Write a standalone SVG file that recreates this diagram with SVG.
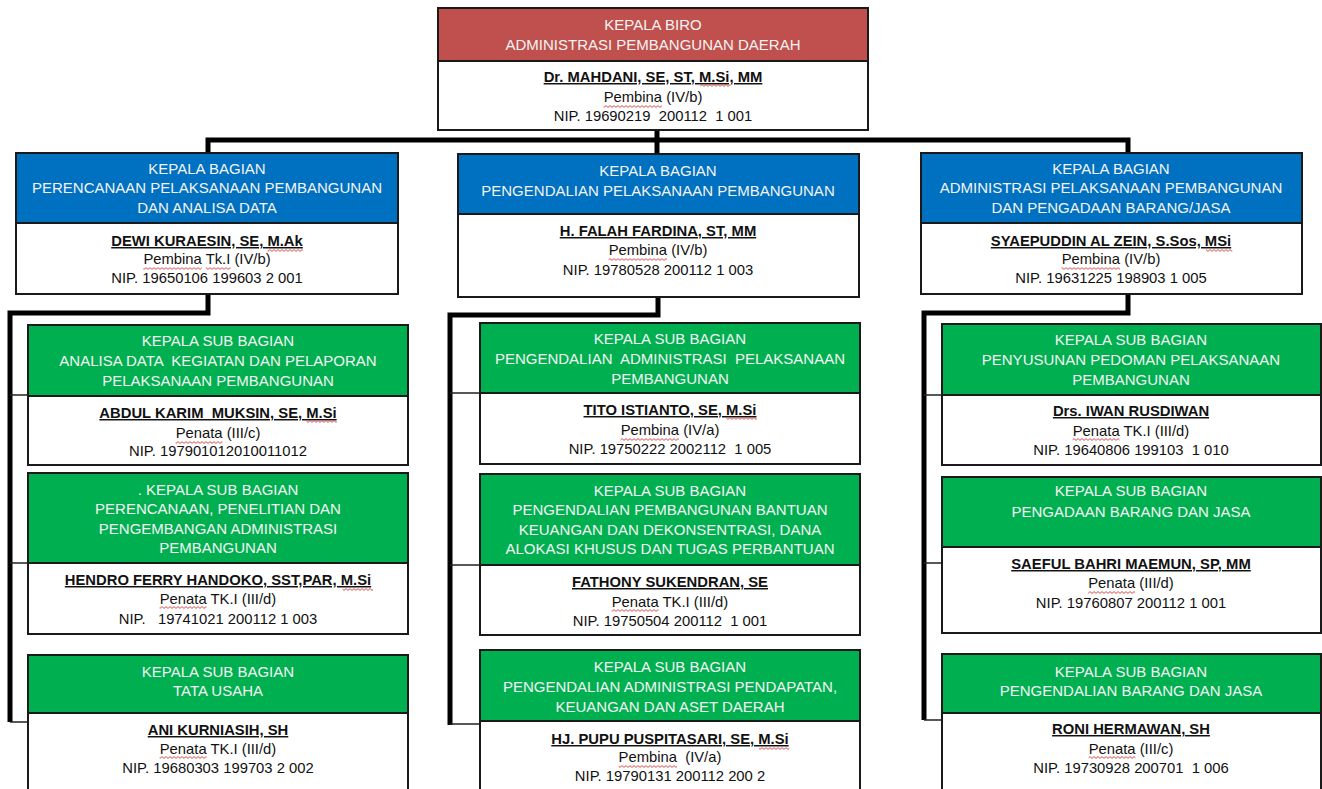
<svg xmlns="http://www.w3.org/2000/svg" width="1322" height="789" viewBox="0 0 1322 789">
<defs>
<pattern id="wave" patternUnits="userSpaceOnUse" x="0" y="0" width="4" height="3">
<path d="M0 2.4L2 0.6L4 2.4" fill="none" stroke="#d83a3a" stroke-width="0.9"/>
</pattern>
</defs>
<style>
text{font-family:"Liberation Sans",Arial,sans-serif;text-anchor:middle;white-space:pre}
.h{font-size:15px;fill:#f4f4f4}
.n{font-size:14.8px;font-weight:bold;fill:#111;text-decoration:underline}
.t{font-size:14.8px;fill:#111}
.wv{fill:url(#wave)}
.box{fill:#fff;stroke:#1a1a1a;stroke-width:2}
.red{fill:#c0504d}
.blue{fill:#0070c0}
.green{fill:#00b050}
.div{stroke:#1a1a1a;stroke-width:2}
.thick{fill:none;stroke:#000;stroke-width:5;stroke-linejoin:miter}
.thin{fill:none;stroke:#222;stroke-width:1.3}
</style>
<rect width="1322" height="789" fill="#fff"/>
<g id="connectors">
<path class="thick" d="M657 130V140M208 153V140H1128V153M657 140V154"/>
<path class="thick" d="M208 294V313H10V722"/>
<path class="thick" d="M658 297V315H450V725"/>
<path class="thick" d="M1128 294V313H924V720"/>
<path class="thin" d="M10 395H28M10 563H28M10 722H28"/>
<path class="thin" d="M450 393H480M450 565H480M450 724H480"/>
<path class="thin" d="M924 395H942M924 563H942M924 720H942"/>
</g>
<g id="kepala-biro">
<rect class="red" x="438" y="8" width="430" height="53"/>
<rect class="box" x="438" y="8" width="430" height="122" style="fill:none"/>
<line class="div" x1="438" y1="61" x2="868" y2="61"/>
<text class="h" x="653" y="30">KEPALA BIRO</text>
<text class="h" x="653" y="50">ADMINISTRASI PEMBANGUNAN DAERAH</text>
<text class="n" x="653" y="82">Dr. MAHDANI, SE, ST, M.Si, MM</text>
<text class="t" x="653" y="102">Pembina (IV/b)</text>
<text class="t" x="653" y="121">NIP. 19690219  200112  1 001</text>
<rect class="wv" x="700.3" y="84" width="30.4" height="3"/>
<rect class="wv" x="603.6" y="105" width="58.4" height="3"/>
</g>
<g id="bagian-perencanaan">
<rect class="box" x="16" y="153" width="382" height="141"/>
<rect class="blue" x="17" y="154" width="380" height="69"/>
<line class="div" x1="16" y1="223" x2="398" y2="223"/>
<text class="h" x="207" y="174">KEPALA BAGIAN</text>
<text class="h" x="207" y="193">PERENCANAAN PELAKSANAAN PEMBANGUNAN</text>
<text class="h" x="207" y="213">DAN ANALISA DATA</text>
<text class="n" x="207" y="246">DEWI KURAESIN, SE, M.Ak</text>
<text class="t" x="207" y="264">Pembina Tk.I (IV/b)</text>
<text class="t" x="207" y="283">NIP. 19650106 199603 2 001</text>
<rect class="wv" x="267.4" y="249" width="35.4" height="3"/>
<rect class="wv" x="143.3" y="267" width="58.4" height="3"/>
<rect class="wv" x="205.8" y="267" width="24.7" height="3"/>
</g>
<g id="bagian-pengendalian">
<rect class="box" x="458" y="154" width="401" height="143"/>
<rect class="blue" x="459" y="155" width="399" height="59"/>
<line class="div" x1="458" y1="214" x2="859" y2="214"/>
<text class="h" x="658" y="176">KEPALA BAGIAN</text>
<text class="h" x="658" y="196">PENGENDALIAN PELAKSANAAN PEMBANGUNAN</text>
<text class="n" x="658" y="236">H. FALAH FARDINA, ST, MM</text>
<text class="t" x="658" y="255">Pembina (IV/b)</text>
<text class="t" x="658" y="275">NIP. 19780528 200112 1 003</text>
<rect class="wv" x="608.6" y="258" width="58.4" height="3"/>
</g>
<g id="bagian-administrasi">
<rect class="box" x="921" y="153" width="381" height="141"/>
<rect class="blue" x="922" y="154" width="379" height="69"/>
<line class="div" x1="921" y1="223" x2="1302" y2="223"/>
<text class="h" x="1111" y="174">KEPALA BAGIAN</text>
<text class="h" x="1111" y="193">ADMINISTRASI PELAKSANAAN PEMBANGUNAN</text>
<text class="h" x="1111" y="213">DAN PENGADAAN BARANG/JASA</text>
<text class="n" x="1111" y="246">SYAEPUDDIN AL ZEIN, S.Sos, MSi</text>
<text class="t" x="1111" y="264">Pembina (IV/b)</text>
<text class="t" x="1111" y="283">NIP. 19631225 198903 1 005</text>
<rect class="wv" x="1206" y="249" width="26.3" height="3"/>
<rect class="wv" x="1061.6" y="267" width="58.4" height="3"/>
</g>
<g id="subbag-analisa-data">
<rect class="box" x="28" y="325" width="380" height="140"/>
<rect class="green" x="29" y="326" width="378" height="70"/>
<line class="div" x1="28" y1="396" x2="408" y2="396"/>
<text class="h" x="218" y="346">KEPALA SUB BAGIAN</text>
<text class="h" x="218" y="366">ANALISA DATA  KEGIATAN DAN PELAPORAN</text>
<text class="h" x="218" y="386">PELAKSANAAN PEMBANGUNAN</text>
<text class="n" x="218" y="418">ABDUL KARIM  MUKSIN, SE, M.Si</text>
<text class="t" x="218" y="438">Penata (III/c)</text>
<text class="t" x="218" y="456">NIP. 197901012010011012</text>
<rect class="wv" x="306.4" y="420" width="30.4" height="3"/>
<rect class="wv" x="175.6" y="441" width="46.9" height="3"/>
</g>
<g id="subbag-perencanaan">
<rect class="box" x="28" y="473" width="380" height="161"/>
<rect class="green" x="29" y="474" width="378" height="89"/>
<line class="div" x1="28" y1="563" x2="408" y2="563"/>
<text class="h" x="218" y="495">. KEPALA SUB BAGIAN</text>
<text class="h" x="218" y="514">PERENCANAAN, PENELITIAN DAN</text>
<text class="h" x="218" y="534">PENGEMBANGAN ADMINISTRASI</text>
<text class="h" x="218" y="553">PEMBANGUNAN</text>
<text class="n" x="218" y="585">HENDRO FERRY HANDOKO, SST,PAR, M.Si</text>
<text class="t" x="218" y="604">Penata TK.I (III/d)</text>
<text class="t" x="218" y="624">NIP.   19741021 200112 1 003</text>
<rect class="wv" x="342.6" y="588" width="30.4" height="3"/>
<rect class="wv" x="159.6" y="606" width="46.9" height="3"/>
</g>
<g id="subbag-tata-usaha">
<rect class="box" x="28" y="655" width="380" height="150"/>
<rect class="green" x="29" y="656" width="378" height="57"/>
<line class="div" x1="28" y1="713" x2="408" y2="713"/>
<text class="h" x="218" y="677">KEPALA SUB BAGIAN</text>
<text class="h" x="218" y="696">TATA USAHA</text>
<text class="n" x="218" y="735">ANI KURNIASIH, SH</text>
<text class="t" x="218" y="754">Penata TK.I (III/d)</text>
<text class="t" x="218" y="773">NIP. 19680303 199703 2 002</text>
<rect class="wv" x="159.6" y="756" width="46.9" height="3"/>
</g>
<g id="subbag-pengendalian-administrasi">
<rect class="box" x="480" y="323" width="380" height="141"/>
<rect class="green" x="481" y="324" width="378" height="69"/>
<line class="div" x1="480" y1="393" x2="860" y2="393"/>
<text class="h" x="670" y="344">KEPALA SUB BAGIAN</text>
<text class="h" x="670" y="364">PENGENDALIAN  ADMINISTRASI  PELAKSANAAN</text>
<text class="h" x="670" y="384">PEMBANGUNAN</text>
<text class="n" x="670" y="415">TITO ISTIANTO, SE, M.Si</text>
<text class="t" x="670" y="435">Pembina (IV/a)</text>
<text class="t" x="670" y="454">NIP. 19750222 2002112  1 005</text>
<rect class="wv" x="726.4" y="417" width="30.4" height="3"/>
<rect class="wv" x="620.6" y="438" width="58.4" height="3"/>
</g>
<g id="subbag-pengendalian-bantuan">
<rect class="box" x="480" y="474" width="380" height="161"/>
<rect class="green" x="481" y="475" width="378" height="90"/>
<line class="div" x1="480" y1="565" x2="860" y2="565"/>
<text class="h" x="670" y="496">KEPALA SUB BAGIAN</text>
<text class="h" x="670" y="515">PENGENDALIAN PEMBANGUNAN BANTUAN</text>
<text class="h" x="670" y="535">KEUANGAN DAN DEKONSENTRASI, DANA</text>
<text class="h" x="670" y="554">ALOKASI KHUSUS DAN TUGAS PERBANTUAN</text>
<text class="n" x="670" y="587">FATHONY SUKENDRAN, SE</text>
<text class="t" x="670" y="607">Penata TK.I (III/d)</text>
<text class="t" x="670" y="626">NIP. 19750504 200112  1 001</text>
<rect class="wv" x="611.6" y="609" width="46.9" height="3"/>
</g>
<g id="subbag-pengendalian-pendapatan">
<rect class="box" x="480" y="650" width="380" height="155"/>
<rect class="green" x="481" y="651" width="378" height="70"/>
<line class="div" x1="480" y1="721" x2="860" y2="721"/>
<text class="h" x="670" y="672">KEPALA SUB BAGIAN</text>
<text class="h" x="670" y="692">PENGENDALIAN ADMINISTRASI PENDAPATAN,</text>
<text class="h" x="670" y="712">KEUANGAN DAN ASET DAERAH</text>
<text class="n" x="670" y="744">HJ. PUPU PUSPITASARI, SE, M.Si</text>
<text class="t" x="670" y="762">Pembina  (IV/a)</text>
<text class="t" x="670" y="781">NIP. 19790131 200112 200 2</text>
<rect class="wv" x="758.9" y="747" width="30.4" height="3"/>
<rect class="wv" x="618.6" y="765" width="58.4" height="3"/>
</g>
<g id="subbag-penyusunan-pedoman">
<rect class="box" x="942" y="324" width="379" height="141"/>
<rect class="green" x="943" y="325" width="377" height="70"/>
<line class="div" x1="942" y1="395" x2="1321" y2="395"/>
<text class="h" x="1131" y="345">KEPALA SUB BAGIAN</text>
<text class="h" x="1131" y="365">PENYUSUNAN PEDOMAN PELAKSANAAN</text>
<text class="h" x="1131" y="385">PEMBANGUNAN</text>
<text class="n" x="1131" y="416">Drs. IWAN RUSDIWAN</text>
<text class="t" x="1131" y="436">Penata TK.I (III/d)</text>
<text class="t" x="1131" y="455">NIP. 19640806 199103  1 010</text>
<rect class="wv" x="1072.6" y="438" width="46.9" height="3"/>
</g>
<g id="subbag-pengadaan">
<rect class="box" x="942" y="477" width="379" height="156"/>
<rect class="green" x="943" y="478" width="377" height="69"/>
<line class="div" x1="942" y1="547" x2="1321" y2="547"/>
<text class="h" x="1131" y="496">KEPALA SUB BAGIAN</text>
<text class="h" x="1131" y="517">PENGADAAN BARANG DAN JASA</text>
<text class="n" x="1131" y="569">SAEFUL BAHRI MAEMUN, SP, MM</text>
<text class="t" x="1131" y="588">Penata (III/d)</text>
<text class="t" x="1131" y="608">NIP. 19760807 200112 1 001</text>
<rect class="wv" x="1088.2" y="591" width="46.9" height="3"/>
</g>
<g id="subbag-pengendalian-barang">
<rect class="box" x="942" y="654" width="379" height="151"/>
<rect class="green" x="943" y="655" width="377" height="58"/>
<line class="div" x1="942" y1="713" x2="1321" y2="713"/>
<text class="h" x="1131" y="677">KEPALA SUB BAGIAN</text>
<text class="h" x="1131" y="696">PENGENDALIAN BARANG DAN JASA</text>
<text class="n" x="1131" y="734">RONI HERMAWAN, SH</text>
<text class="t" x="1131" y="754">Penata (III/c)</text>
<text class="t" x="1131" y="773">NIP. 19730928 200701  1 006</text>
<rect class="wv" x="1088.6" y="756" width="46.9" height="3"/>
</g>
</svg>
